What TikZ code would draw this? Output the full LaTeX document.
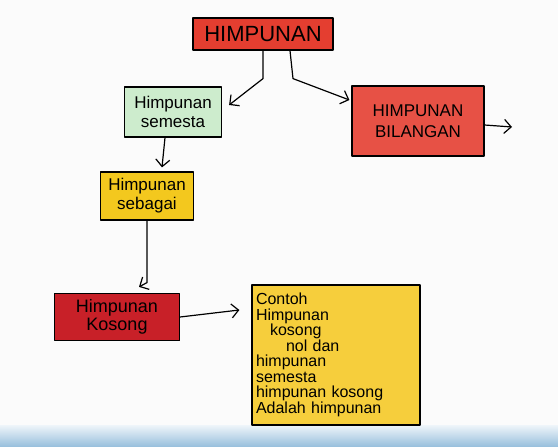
\documentclass[tikz,border=0pt]{standalone}
\usepackage{fontspec}
\setmainfont{Liberation Sans}
\usetikzlibrary{arrows.meta}

\definecolor{merah}{RGB}{228,62,48}
\definecolor{merahtua}{RGB}{200,32,40}
\definecolor{hijau}{RGB}{205,236,205}
\definecolor{kuning}{RGB}{243,200,30}
\definecolor{kuningmuda}{RGB}{246,206,60}
\definecolor{biru}{RGB}{150,190,220}

\tikzset{
  kotak/.style={draw=black, line width=1.2pt, rectangle, align=center, inner sep=2pt},
  arr/.style={-{Straight Barb[length=7pt,width=14pt]}, line width=1.2pt}
}

\begin{document}
\begin{tikzpicture}[x=1pt, y=-1pt, line join=bevel]

\fill[white!97!gray] (0,0) rectangle (558,447);
\shade[top color=white!85!biru, bottom color=biru] (0,425) rectangle (558,447);
\useasboundingbox (0,0) rectangle (558,447);

\node[kotak, fill=merah, minimum width=140pt, minimum height=32pt,
  font=\fontsize{22}{24}\selectfont] (himpunan) at (263,34) {HIMPUNAN};

\node[kotak, fill=hijau, minimum width=97pt, minimum height=50pt,
  font=\fontsize{17}{19}\selectfont] (semesta) at (173,112) {Himpunan\\semesta};

\node[kotak, fill=merah!90!white, minimum width=132pt, minimum height=70pt,
  font=\fontsize{17}{21}\selectfont] (bilangan) at (418,121) {HIMPUNAN\\BILANGAN};

\node[kotak, fill=kuning, minimum width=93pt, minimum height=48pt,
  font=\fontsize{17}{19}\selectfont] (sebagai) at (147,196) {Himpunan\\sebagai};

\node[kotak, fill=merahtua, minimum width=125pt, minimum height=47pt,
  font=\fontsize{18}{18}\selectfont] (kosong) at (117,317) {Himpunan\\Kosong};

\node[kotak, fill=kuningmuda, minimum width=168pt, minimum height=140pt,
  align=left, text width=160pt, font=\fontsize{16}{15.5}\selectfont] (contoh) at (336,355)
  {Contoh\\Himpunan\\\hspace*{14pt}kosong\\\hspace*{30pt}nol dan\\himpunan\\semesta\\himpunan kosong\\Adalah himpunan};

\coordinate (keluar) at (512,127);

\draw[arr] ([xshift=0pt]himpunan.south) -- ++(0,28) -- ([xshift=7pt,yshift=7pt]semesta.east);
\draw[arr] ([xshift=27pt]himpunan.south) -- ++(3,28) -- ([xshift=-2pt,yshift=21pt]bilangan.west);
\draw[arr] ([yshift=-4pt]bilangan.east) -- (keluar);
\draw[arr] ([xshift=-8pt]semesta.south) -- ([xshift=15pt,yshift=4pt]sebagai.north);
\draw[arr] (sebagai.south) -- ++(0,62) -- ([xshift=22pt,yshift=6pt]kosong.north);
\draw[arr] (kosong.east) -- ([xshift=-12pt,yshift=45pt]contoh.west);

\end{tikzpicture}
\end{document}
